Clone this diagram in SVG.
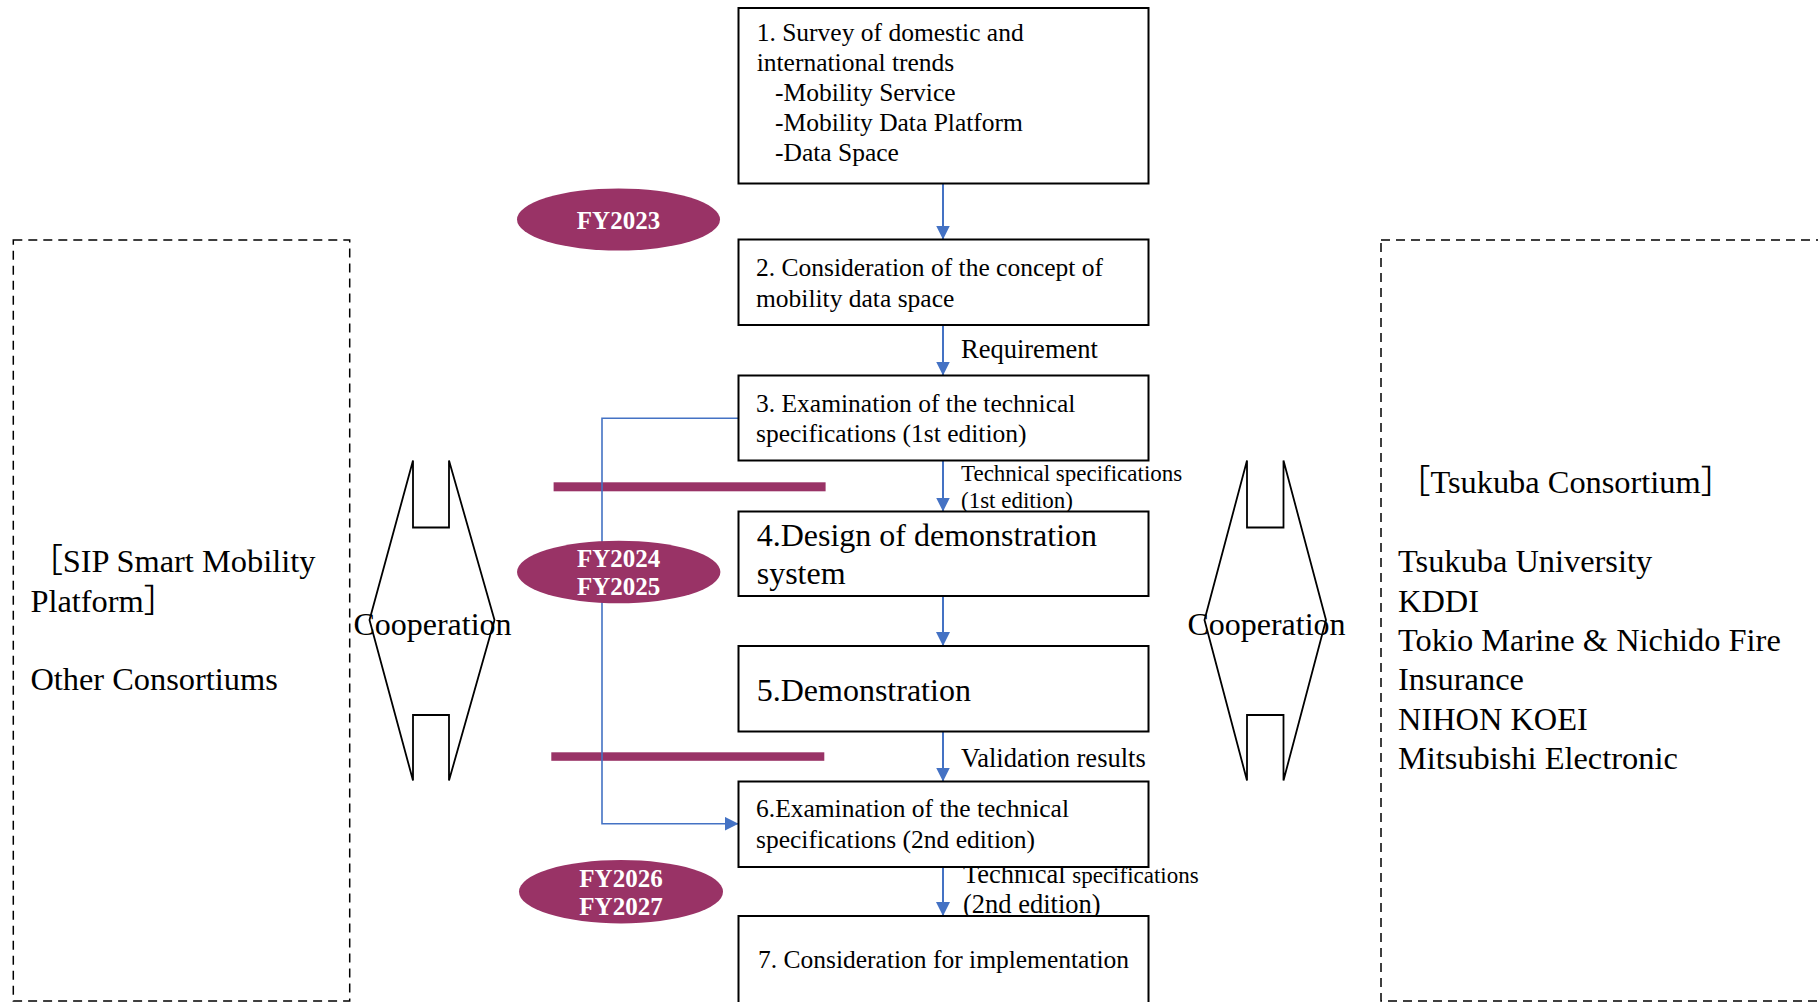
<svg xmlns="http://www.w3.org/2000/svg" width="1818" height="1002" viewBox="0 0 1818 1002">
<defs>
<style>
.box{fill:#fff;stroke:#000;stroke-width:2}
.t{font-family:"Liberation Serif","Noto Sans CJK JP",serif;fill:#000}
.bt{font-size:25.5px}
.big{font-size:32px}
.lbl{font-size:26.5px}
.sm{font-size:23px}
.side{font-size:32.4px}
.dash{fill:none;stroke:#000;stroke-width:1.5;stroke-dasharray:9 6}
.coop{fill:#fff;stroke:#000;stroke-width:1.8;stroke-linejoin:miter}
.fy{fill:#993366}
.fyt{font-family:"Liberation Serif",serif;font-weight:bold;font-size:25px;fill:#fff;text-anchor:middle}
.bar{fill:#993366}
.arr{fill:none;stroke:#4472C4;stroke-width:2}
.elb{fill:none;stroke:#4472C4;stroke-width:1.6}
</style>
<marker id="ah" viewBox="0 0 10 10" refX="10" refY="5" markerUnits="userSpaceOnUse" markerWidth="14" markerHeight="14" orient="auto">
<path d="M0,0 L10,5 L0,10 z" fill="#4472C4"/>
</marker>
</defs>
<rect width="1818" height="1002" fill="#fff"/>

<g id="left-group">
<rect class="dash" x="13.3" y="240" width="336.4" height="761"/>
<text class="t side" x="30.4" y="572">［SIP Smart Mobility</text>
<text class="t side" x="30.4" y="611.8">Platform］</text>
<text class="t side" x="30.4" y="690.4">Other Consortiums</text>
</g>

<g id="right-group">
<rect class="dash" x="1381" y="240" width="520" height="761"/>
<text class="t side" x="1398" y="493">［Tsukuba Consortium］</text>
<text class="t side" x="1398" y="572">Tsukuba University</text>
<text class="t side" x="1398" y="611.8">KDDI</text>
<text class="t side" x="1398" y="651">Tokio Marine &amp; Nichido Fire</text>
<text class="t side" x="1398" y="689.6">Insurance</text>
<text class="t side" x="1398" y="730">NIHON KOEI</text>
<text class="t side" x="1398" y="768.6">Mitsubishi Electronic</text>
</g>

<g id="coop-left">
<path class="coop" d="M413,460.5 L413,527.5 L449,527.5 L449,460.5 L494.5,620 L449,780.5 L449,715 L413,715 L413,780.5 L369.5,620 Z"/>
<text class="t big" x="432.5" y="635" text-anchor="middle">Cooperation</text>
</g>

<g id="coop-right">
<path class="coop" d="M1247,460.5 L1247,527.5 L1283.5,527.5 L1283.5,460.5 L1326,620 L1283.5,780.5 L1283.5,715 L1247,715 L1247,780.5 L1204.5,620 Z"/>
<text class="t big" x="1266.5" y="635" text-anchor="middle">Cooperation</text>
</g>

<g id="phase-bars">
<rect class="bar" x="553.6" y="482.3" width="272" height="9"/>
<rect class="bar" x="551.3" y="752.3" width="273" height="8.5"/>
</g>

<g id="connectors">
<line class="arr" x1="943" y1="183.5" x2="943" y2="239.5" marker-end="url(#ah)"/>
<line class="arr" x1="943" y1="325" x2="943" y2="375.5" marker-end="url(#ah)"/>
<line class="arr" x1="943" y1="460.5" x2="943" y2="511.5" marker-end="url(#ah)"/>
<line class="arr" x1="943" y1="596" x2="943" y2="646" marker-end="url(#ah)"/>
<line class="arr" x1="943" y1="731.5" x2="943" y2="781.5" marker-end="url(#ah)"/>
<line class="arr" x1="943" y1="867" x2="943" y2="916" marker-end="url(#ah)"/>
<polyline class="elb" points="738.5,418.3 602,418.3 602,823.7 738.5,823.7" marker-end="url(#ah)"/>
<text class="t lbl" x="961" y="357.7">Requirement</text>
<text class="t sm" x="961" y="481">Technical specifications</text>
<text class="t sm" x="961" y="507.7">(1st edition)</text>
<text class="t lbl" x="961" y="766.7">Validation results</text>
<text class="t lbl" x="963" y="883.3">Technical <tspan font-size="23">specifications</tspan></text>
<text class="t lbl" x="963" y="913.3">(2nd edition)</text>
</g>

<g id="fy2023">
<ellipse class="fy" cx="618.5" cy="219.5" rx="101.5" ry="31"/>
<text class="fyt" x="618.5" y="229">FY2023</text>
</g>
<g id="fy2024-2025">
<ellipse class="fy" cx="618.7" cy="572" rx="101.7" ry="31.3"/>
<text class="fyt" x="618.7" y="567.3">FY2024</text>
<text class="fyt" x="618.7" y="595">FY2025</text>
</g>
<g id="fy2026-2027">
<ellipse class="fy" cx="621" cy="891.7" rx="102" ry="31.7"/>
<text class="fyt" x="621" y="887.3">FY2026</text>
<text class="fyt" x="621" y="915">FY2027</text>
</g>

<g id="n1">
<rect class="box" x="738.5" y="8" width="410" height="175.5"/>
<text class="t bt" x="756.7" y="40.7">1. Survey of domestic and</text>
<text class="t bt" x="756.7" y="71">international trends</text>
<text class="t bt" x="775" y="101">-Mobility Service</text>
<text class="t bt" x="775" y="131">-Mobility Data Platform</text>
<text class="t bt" x="775" y="161">-Data Space</text>
</g>
<g id="n2">
<rect class="box" x="738.5" y="239.5" width="410" height="85.5"/>
<text class="t bt" x="756" y="275.7">2. Consideration of the concept of</text>
<text class="t bt" x="756" y="306.7">mobility data space</text>
</g>
<g id="n3">
<rect class="box" x="738.5" y="375.5" width="410" height="85"/>
<text class="t bt" x="756" y="411.7">3. Examination of the technical</text>
<text class="t bt" x="756" y="442.3">specifications (1st edition)</text>
</g>
<g id="n4">
<rect class="box" x="738.5" y="511.5" width="410" height="84.5"/>
<text class="t big" x="756.7" y="546">4.Design of demonstration</text>
<text class="t big" x="756.7" y="584">system</text>
</g>
<g id="n5">
<rect class="box" x="738.5" y="646" width="410" height="85.5"/>
<text class="t big" x="756.7" y="700.7">5.Demonstration</text>
</g>
<g id="n6">
<rect class="box" x="738.5" y="781.5" width="410" height="85.5"/>
<text class="t bt" x="756" y="816.7">6.Examination of the technical</text>
<text class="t bt" x="756" y="848.3">specifications (2nd edition)</text>
</g>
<g id="n7">
<rect class="box" x="738.5" y="916" width="410" height="100"/>
<text class="t bt" x="758" y="968.3">7. Consideration for implementation</text>
</g>
</svg>
